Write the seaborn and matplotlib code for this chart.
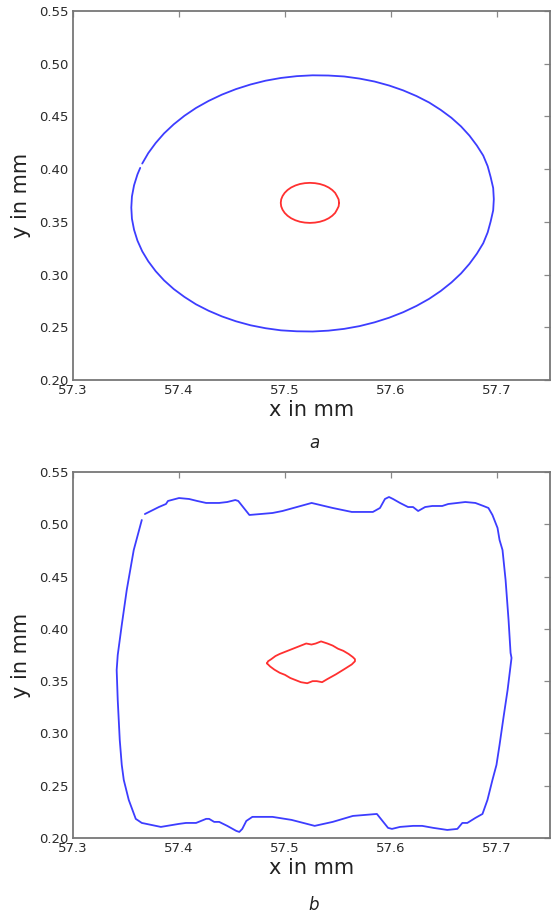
import numpy as np
import pandas as pd
import matplotlib
matplotlib.use("Agg")
import matplotlib.pyplot as plt
import seaborn as sns

# ---------------- data ----------------
x_ticks = [57.3, 57.4, 57.5, 57.6, 57.7]
y_ticks = [0.20, 0.25, 0.30, 0.35, 0.40, 0.45, 0.50, 0.55]

# panel a: outer (blue) contour (open, small gap at upper left)
a_outer_x = [57.3634, 57.3608, 57.3576, 57.3556, 57.355, 57.3556, 57.3576, 57.3608, 57.3653,
             57.3710, 57.378, 57.3859, 57.395, 57.4051, 57.416, 57.4279, 57.4405, 57.4537,
             57.4675, 57.4817, 57.4962, 57.5111, 57.526, 57.5409, 57.5558, 57.5703, 57.5845,
             57.5983, 57.6115, 57.6241, 57.636, 57.6469, 57.657, 57.6661, 57.674, 57.6810,
             57.687, 57.6912, 57.694, 57.6964, 57.697, 57.6964, 57.694, 57.6912, 57.687,
             57.6810, 57.674, 57.6661, 57.657, 57.6469, 57.636, 57.6241, 57.6115, 57.5983,
             57.5845, 57.5703, 57.5558, 57.5409, 57.526, 57.5111, 57.4962, 57.4817, 57.4675,
             57.4537, 57.4405, 57.4279, 57.416, 57.4051, 57.395, 57.3859, 57.378, 57.3710,
             57.3653]
a_outer_y = [0.4012, 0.3950, 0.3847, 0.3741, 0.3635, 0.3529, 0.3425, 0.3322, 0.3221,
             0.3126, 0.3032, 0.2945, 0.2863, 0.2788, 0.2718, 0.2657, 0.2603, 0.2557,
             0.2519, 0.2491, 0.2471, 0.2462, 0.2460, 0.2468, 0.2485, 0.2511, 0.2547,
             0.2591, 0.2643, 0.2703, 0.2770, 0.2844, 0.2925, 0.3011, 0.3102, 0.3198,
             0.3297, 0.3400, 0.3503, 0.3609, 0.3715, 0.3821, 0.3925, 0.4028, 0.4129,
             0.4224, 0.4318, 0.4405, 0.4487, 0.4562, 0.4632, 0.4693, 0.4747, 0.4793,
             0.4831, 0.4859, 0.4879, 0.4888, 0.4890, 0.4882, 0.4865, 0.4839, 0.4803,
             0.4759, 0.4707, 0.4647, 0.4580, 0.4506, 0.4425, 0.4339, 0.4248, 0.4152,
             0.4053]

# panel a: inner (red) contour
a_inner_x = [57.551, 57.5506, 57.549, 57.5473, 57.5446, 57.5412, 57.5373, 57.5329, 57.5283,
             57.5235, 57.5187, 57.5141, 57.5098, 57.5058, 57.5024, 57.4997, 57.4977, 57.4964,
             57.496, 57.4964, 57.4977, 57.4997, 57.5024, 57.5058, 57.5098, 57.5141, 57.5187,
             57.5235, 57.5283, 57.5329, 57.5373, 57.5412, 57.5446, 57.5473, 57.549, 57.5506,
             57.551]
a_inner_y = [0.368, 0.3713, 0.3745, 0.3775, 0.3802, 0.3826, 0.3845, 0.3859, 0.3867,
             0.387, 0.3867, 0.3859, 0.3845, 0.3826, 0.3802, 0.3775, 0.3745, 0.3713,
             0.368, 0.3647, 0.3615, 0.3585, 0.3558, 0.3534, 0.3515, 0.3501, 0.3493,
             0.349, 0.3493, 0.3501, 0.3515, 0.3534, 0.3558, 0.3585, 0.3615, 0.3647,
             0.368]

# panel b: outer (blue) contour
b_outer_x = [57.3678, 57.3810, 57.3877, 57.3896, 57.4000, 57.4095, 57.4171, 57.4256, 57.4313,
             57.4379, 57.4455, 57.4531, 57.4559, 57.4664, 57.4882, 57.4976, 57.5251, 57.5450,
             57.5630, 57.5829, 57.5896, 57.5943, 57.5981, 57.6019, 57.6085, 57.6161, 57.6208,
             57.6256, 57.6322, 57.6389, 57.6483, 57.6540, 57.6626, 57.6701, 57.6796, 57.6872,
             57.6919, 57.6957, 57.7005, 57.7024, 57.7052, 57.7081, 57.7109, 57.7128, 57.7137,
             57.7100, 57.7062, 57.7024, 57.6995, 57.6957, 57.6910, 57.6863, 57.6796, 57.6720,
             57.6673, 57.6626, 57.6531, 57.6398, 57.6294, 57.6209, 57.6085, 57.6009, 57.5972,
             57.5867, 57.5640, 57.5450, 57.5280, 57.5062, 57.4882, 57.4692, 57.4635, 57.4597,
             57.4569, 57.4540, 57.4455, 57.4379, 57.4332, 57.4284, 57.4256, 57.4161, 57.4066,
             57.4000, 57.3829, 57.3649, 57.3592, 57.3526, 57.3479, 57.3460, 57.3441, 57.3422,
             57.3412, 57.3422, 57.3460, 57.3507, 57.3573, 57.3649]
b_outer_y = [0.5098, 0.5165, 0.5194, 0.5223, 0.5251, 0.5242, 0.5223, 0.5204, 0.5204,
             0.5204, 0.5213, 0.5232, 0.5223, 0.5089, 0.5108, 0.5127, 0.5204, 0.5156,
             0.5118, 0.5118, 0.5156, 0.5242, 0.5261, 0.5242, 0.5204, 0.5165, 0.5165,
             0.5127, 0.5165, 0.5175, 0.5175, 0.5194, 0.5204, 0.5213, 0.5204, 0.5175,
             0.5156, 0.5089, 0.4965, 0.4850, 0.4754, 0.4467, 0.4085, 0.3770, 0.3722,
             0.3416, 0.3158, 0.2890, 0.2699, 0.2555, 0.2364, 0.2230, 0.2192, 0.2144,
             0.2144, 0.2087, 0.2077, 0.2097, 0.2116, 0.2116, 0.2106, 0.2087, 0.2097,
             0.2230, 0.2211, 0.2154, 0.2116, 0.2173, 0.2202, 0.2202, 0.2163, 0.2087,
             0.2058, 0.2068, 0.2116, 0.2154, 0.2154, 0.2183, 0.2183, 0.2144, 0.2144,
             0.2135, 0.2106, 0.2144, 0.2183, 0.2364, 0.2555, 0.2699, 0.2938, 0.3320,
             0.3607, 0.3750, 0.4037, 0.4372, 0.4754, 0.5041]

# panel b: inner (red) contour
b_inner_x = [57.483, 57.484, 57.487, 57.491, 57.495, 57.500, 57.505, 57.510, 57.515, 57.520,
             57.525, 57.529, 57.534, 57.540, 57.545, 57.550, 57.555, 57.560, 57.564, 57.566,
             57.566, 57.563, 57.556, 57.548, 57.540, 57.535, 57.530, 57.526, 57.521, 57.515,
             57.510, 57.505, 57.500, 57.495, 57.490, 57.486, 57.483]
b_inner_y = [0.367, 0.369, 0.371, 0.374, 0.376, 0.378, 0.380, 0.382, 0.384, 0.386,
             0.385, 0.386, 0.388, 0.386, 0.384, 0.381, 0.379, 0.376, 0.373, 0.371,
             0.369, 0.366, 0.3615, 0.3565, 0.352, 0.349, 0.350, 0.350, 0.348, 0.349,
             0.351, 0.353, 0.356, 0.358, 0.361, 0.364, 0.367]

BLUE = "#3d3dff"
RED = "#ff3030"

sns.set_style("white")
plt.rcParams["font.family"] = ["DejaVu Sans"]

fig = plt.figure(figsize=(5.54, 9.15), dpi=100)
W, H = 554.0, 915.0
ax_a = fig.add_axes([73 / W, 1 - 380 / H, (550 - 73) / W, (380 - 11) / H])
ax_b = fig.add_axes([73 / W, 1 - 838 / H, (550 - 73) / W, (838 - 472) / H])


def draw(ax, outer_x, outer_y, inner_x, inner_y):
    d_out = pd.DataFrame({"x": outer_x, "y": outer_y})
    d_in = pd.DataFrame({"x": inner_x, "y": inner_y})
    sns.lineplot(data=d_out, x="x", y="y", sort=False, estimator=None,
                 color=BLUE, lw=1.3, ax=ax)
    sns.lineplot(data=d_in, x="x", y="y", sort=False, estimator=None,
                 color=RED, lw=1.3, ax=ax)
    ax.set_xlim(57.3, 57.75)
    ax.set_ylim(0.20, 0.55)
    ax.set_xticks(x_ticks)
    ax.set_xticklabels([f"{v:.1f}" for v in x_ticks])
    ax.set_yticks(y_ticks)
    ax.set_yticklabels([f"{v:.2f}" for v in y_ticks])
    ax.tick_params(direction="in", top=True, right=True, length=4, width=0.9,
                   color="#888888", labelcolor="#2a2a2a", labelsize=9.5, pad=3)
    for s in ax.spines.values():
        s.set_color("#777777")
        s.set_linewidth(1.3)
    ax.set_xlabel("x in mm", fontsize=15, color="#222222", labelpad=2)
    ax.set_ylabel("y in mm", fontsize=15, color="#222222", labelpad=6)


draw(ax_a, a_outer_x, a_outer_y, a_inner_x, a_inner_y)
draw(ax_b, b_outer_x, b_outer_y, b_inner_x, b_inner_y)

fig.text(314 / W, 1 - 443 / H, "a", style="italic", fontsize=12,
         ha="center", va="center", color="#222222")
fig.text(314 / W, 1 - 905 / H, "b", style="italic", fontsize=12,
         ha="center", va="center", color="#222222")

fig.savefig("out.png", dpi=100)
